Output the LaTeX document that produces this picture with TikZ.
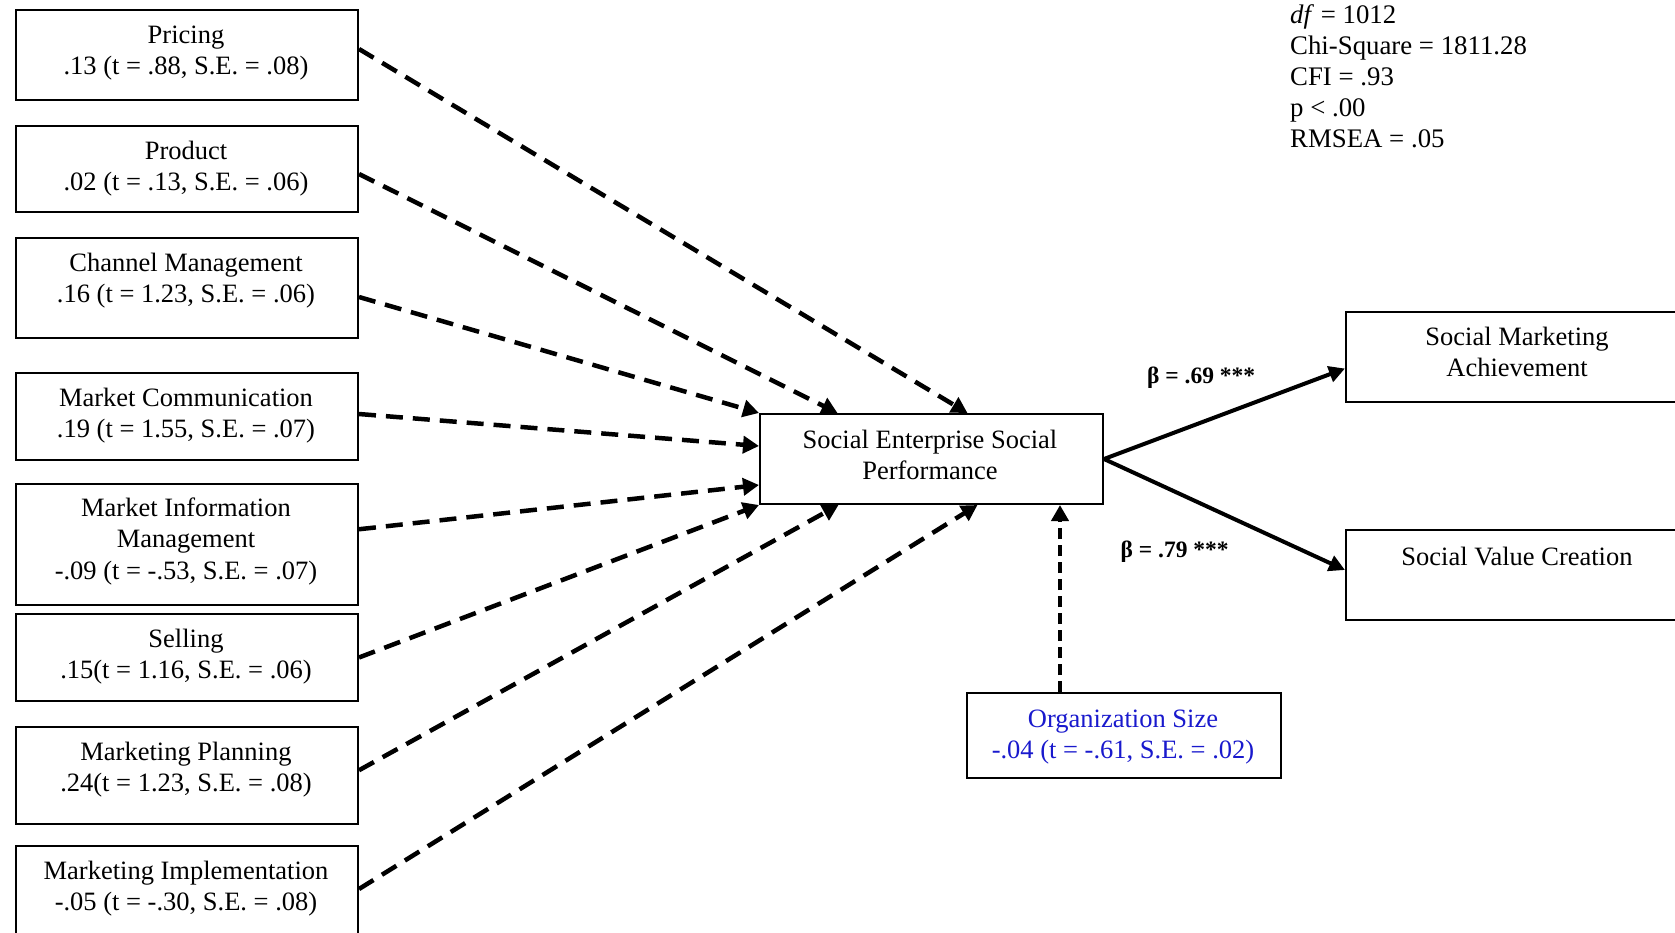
\documentclass[tikz,border=0pt]{standalone}
\usepackage{fontspec}
\setmainfont{Liberation Serif}
\usetikzlibrary{arrows.meta}
\definecolor{orgblue}{RGB}{25,25,205}
\tikzset{
  box/.style={draw=black, line width=2pt, rectangle, anchor=north west, inner sep=0pt},
  txt/.style={anchor=base, align=center, inner sep=0pt, font=\fontsize{26.5}{31.5}\selectfont},
  stat/.style={anchor=base west, align=left, inner sep=0pt, font=\fontsize{26.8}{31}\selectfont},
  beta/.style={anchor=base west, inner sep=0pt, font=\fontsize{23.5}{27}\selectfont\bfseries},
  darr/.style={line width=4.5pt, dash pattern=on 17pt off 10pt, -{Triangle[length=16pt,width=17pt]}},
  varr/.style={line width=4.5pt, dash pattern=on 11pt off 6pt, -{Triangle[length=16pt,width=17pt]}},
  sarr/.style={line width=4pt, -{Triangle[length=16pt,width=16pt]}}
}
\begin{document}
\begin{tikzpicture}[x=1pt,y=-1pt]
\useasboundingbox (0,0) rectangle (1675,932);
\clip (0,0) rectangle (1675,932);
\fill[white] (0,0) rectangle (1675,932);
% left boxes
\node[box, minimum width=342pt, minimum height=90pt]  (pricing) at (15,9)   {};
\node[box, minimum width=342pt, minimum height=86pt]  (product) at (15,125) {};
\node[box, minimum width=342pt, minimum height=100pt] (channel) at (15,237) {};
\node[box, minimum width=342pt, minimum height=87pt]  (mc)      at (15,372) {};
\node[box, minimum width=342pt, minimum height=120.5pt] (mim)   at (15,483) {};
\node[box, minimum width=342pt, minimum height=87pt]  (sel)     at (15,613) {};
\node[box, minimum width=342pt, minimum height=96.5pt] (plan)   at (15,726) {};
\node[box, minimum width=342pt, minimum height=120pt] (impl)    at (15,845) {};
% texts (anchor = baseline of last line)
\node[txt] (tpricing) at (186,74.5)  {Pricing\\.13 (t = .88, S.E. = .08)};
\node[txt] (tproduct) at (186,190.5) {Product\\.02 (t = .13, S.E. = .06)};
\node[txt] (tchannel) at (186,302.5) {Channel Management\\.16 (t = 1.23, S.E. = .06)};
\node[txt] (tmc)      at (186,437.5) {Market Communication\\.19 (t = 1.55, S.E. = .07)};
\node[txt] (tmim)     at (186,579)   {Market Information\\Management\\-.09 (t = -.53, S.E. = .07)};
\node[txt] (tsel)     at (186,678.5) {Selling\\.15(t = 1.16, S.E. = .06)};
\node[txt] (tplan)    at (186,791.5) {Marketing Planning\\.24(t = 1.23, S.E. = .08)};
\node[txt] (timpl)    at (186,910.5) {Marketing Implementation\\-.05 (t = -.30, S.E. = .08)};
% central and right
\node[box, minimum width=343pt, minimum height=90pt] (perf) at (759,413) {};
\node[txt] (tperf) at (930,479.5) {Social Enterprise Social\\Performance};
\node[box, minimum width=400pt, minimum height=90pt] (sma) at (1345,311) {};
\node[txt] (tsma) at (1517,376.5) {Social Marketing\\Achievement};
\node[box, minimum width=400pt, minimum height=90pt] (svc) at (1345,529) {};
\node[txt] (tsvc) at (1517,565) {Social Value Creation};
\node[box, minimum width=314pt, minimum height=85pt] (org) at (966,692) {};
\node[txt, text=orgblue] (torg) at (1123,758.5) {Organization Size\\-.04 (t = -.61, S.E. = .02)};
% stats
\node[stat] (stats) at (1290,147) {\textit{df} = 1012\\Chi-Square = 1811.28\\CFI = .93\\p < .00\\RMSEA = .05};
% beta labels
\node[beta] (b1) at (1147,383) {β = .69 ***};
\node[beta] (b2) at (1120.5,557) {β = .79 ***};
% dashed arrows
\draw[darr] ([yshift=6pt]pricing.east) -- ([xshift=36pt]perf.north);
\draw[darr] ([yshift=-5pt]product.east) -- ([xshift=-94pt]perf.north);
\draw[darr] ([yshift=-9pt]channel.east) -- (perf.north west);
\draw[darr] ([yshift=2.5pt]mc.east) -- ([yshift=13pt]perf.west);
\draw[darr] ([yshift=15pt]mim.east) -- ([yshift=-26pt]perf.west);
\draw[darr] (sel.east) -- (perf.south west);
\draw[darr] ([yshift=5pt]plan.east) -- ([xshift=-93pt]perf.south);
\draw[darr] ([yshift=17pt]impl.east) -- ([xshift=46pt]perf.south);
\draw[varr] ([xshift=-64pt]org.north) -- ([xshift=128.5pt]perf.south);
% solid arrows
\draw[sarr] (perf.east) -- ([yshift=-11.5pt]sma.west);
\draw[sarr] (perf.east) -- ([yshift=5pt]svc.west);
\end{tikzpicture}
\end{document}
